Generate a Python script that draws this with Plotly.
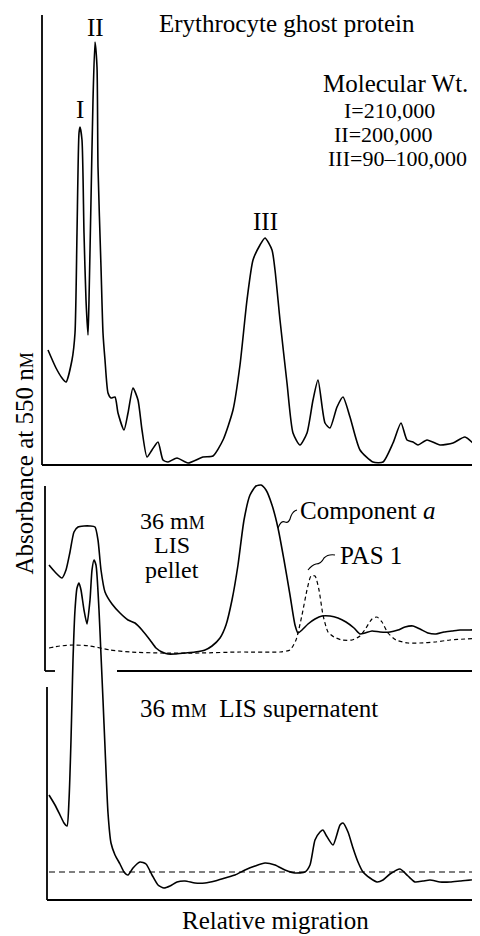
import plotly.graph_objects as go

# ---------------- data (relative migration in mm, absorbance in arbitrary units) -------------
ghost_x = [0.6, 1.4, 2.0, 2.4, 3.0, 3.3, 3.5, 3.7, 3.8, 4.0, 4.2, 4.4, 4.6, 4.7, 4.9, 5.1, 5.3, 5.5,
           5.6, 5.9, 6.1, 6.3, 6.6, 6.9, 7.3, 7.6, 8.2, 8.6, 9.1, 9.6, 10.0, 10.5, 11.0, 11.6, 12.1,
           12.6, 13.5, 14.6, 16.1, 17.1, 18.1, 19.1, 19.8, 20.5, 21.1, 21.8, 22.3, 23.0, 23.3, 23.8,
           24.5, 25.1, 25.8, 26.5, 27.1, 27.6, 28.3, 28.8, 29.5, 30.1, 30.8, 31.8, 33.1, 34.1, 35.1,
           35.9, 36.5, 37.1, 37.6, 38.5, 39.8, 41.1, 42.3, 43.5, 44.0]
ghost_y = [0.230, 0.194, 0.174, 0.166, 0.210, 0.264, 0.464, 0.664, 0.676, 0.650, 0.464, 0.330, 0.260,
           0.330, 0.530, 0.730, 0.846, 0.796, 0.596, 0.396, 0.264, 0.210, 0.144, 0.134, 0.136, 0.104,
           0.070, 0.104, 0.154, 0.130, 0.070, 0.016, 0.030, 0.046, 0.010, 0.006, 0.014, 0.004, 0.016,
           0.018, 0.050, 0.110, 0.200, 0.330, 0.410, 0.440, 0.454, 0.430, 0.390, 0.290, 0.164, 0.064,
           0.040, 0.064, 0.130, 0.170, 0.084, 0.074, 0.116, 0.136, 0.096, 0.030, 0.006, 0.006, 0.044,
           0.084, 0.050, 0.046, 0.040, 0.050, 0.040, 0.044, 0.056, 0.036, 0.026]

pellet_x = [0.7, 1.3, 2.0, 2.4, 2.8, 3.2, 3.6, 4.2, 4.8, 5.3, 5.6, 5.9, 6.3, 7.0, 7.8, 8.6, 9.3, 10.0,
            10.8, 11.4, 12.0, 12.6, 13.3, 14.3, 15.3, 16.3, 17.0, 17.8, 18.4, 19.0, 19.6, 20.2, 20.8,
            21.4, 21.9, 22.4, 23.0, 23.6, 24.2, 24.8, 25.3, 25.6, 26.0, 26.6, 27.3, 28.0, 28.8, 29.6,
            30.4, 31.2, 31.8, 32.3, 33.0, 33.8, 34.8, 35.6, 36.3, 37.1, 37.8, 38.6, 39.4, 40.2, 41.0,
            41.8, 42.8, 44.0]
pellet_y = [0.212, 0.198, 0.186, 0.202, 0.238, 0.278, 0.288, 0.290, 0.290, 0.288, 0.262, 0.202, 0.158,
            0.134, 0.116, 0.102, 0.096, 0.082, 0.062, 0.046, 0.038, 0.034, 0.034, 0.036, 0.038, 0.042,
            0.050, 0.066, 0.092, 0.142, 0.212, 0.302, 0.352, 0.370, 0.372, 0.362, 0.332, 0.286, 0.222,
            0.152, 0.092, 0.076, 0.082, 0.094, 0.104, 0.110, 0.110, 0.106, 0.098, 0.086, 0.074, 0.076,
            0.080, 0.078, 0.078, 0.082, 0.088, 0.090, 0.084, 0.076, 0.074, 0.078, 0.080, 0.082, 0.082,
            0.084]

pas_x = [0.7, 1.8, 3.3, 4.8, 6.8, 8.8, 11.8, 15.8, 19.8, 23.8, 24.8, 25.4, 26.0, 26.5, 26.9, 27.3,
         27.7, 28.1, 28.6, 29.2, 30.0, 31.0, 31.8, 32.4, 33.0, 33.5, 34.0, 34.6, 35.4, 36.6, 37.8,
         39.3, 40.8, 42.3, 44.0]
pas_y = [0.046, 0.050, 0.052, 0.050, 0.042, 0.038, 0.036, 0.036, 0.038, 0.038, 0.042, 0.062, 0.112,
         0.162, 0.190, 0.190, 0.162, 0.112, 0.078, 0.068, 0.062, 0.062, 0.070, 0.086, 0.104, 0.108,
         0.098, 0.076, 0.062, 0.056, 0.056, 0.058, 0.062, 0.064, 0.066]

super_x = [0.7, 1.3, 1.8, 2.2, 2.5, 2.7, 2.9, 3.0, 3.1, 3.3, 3.5, 3.7, 3.9, 4.2, 4.5, 4.8, 5.0, 5.2,
           5.4, 5.7, 5.9, 6.1, 6.3, 6.6, 6.9, 7.3, 7.8, 8.2, 8.6, 9.1, 9.8, 10.4, 11.0, 11.6, 12.2,
           12.8, 13.5, 14.3, 15.3, 16.3, 17.3, 18.3, 19.3, 20.3, 21.3, 22.3, 23.3, 24.3, 25.3, 26.3,
           26.8, 27.3, 27.8, 28.1, 28.4, 29.1, 29.8, 30.1, 30.6, 31.1, 31.6, 32.1, 32.8, 33.5, 34.1,
           34.8, 35.8, 36.6, 37.3, 38.1, 38.8, 39.8, 40.8, 41.8, 42.8, 44.0]
super_y = [0.210, 0.190, 0.170, 0.154, 0.148, 0.200, 0.320, 0.400, 0.480, 0.580, 0.624, 0.634, 0.620,
           0.580, 0.552, 0.600, 0.660, 0.680, 0.670, 0.580, 0.490, 0.400, 0.306, 0.174, 0.114, 0.090,
           0.072, 0.056, 0.050, 0.064, 0.076, 0.072, 0.050, 0.030, 0.024, 0.028, 0.036, 0.038, 0.034,
           0.034, 0.038, 0.044, 0.050, 0.060, 0.068, 0.074, 0.070, 0.060, 0.054, 0.056, 0.070, 0.120,
           0.136, 0.140, 0.130, 0.110, 0.150, 0.154, 0.136, 0.104, 0.076, 0.056, 0.044, 0.036, 0.040,
           0.052, 0.062, 0.048, 0.036, 0.038, 0.040, 0.036, 0.036, 0.038, 0.040, 0.044]

super_ref_x = [0.7, 44.0]
super_ref_y = [0.056, 0.056]

mol_labels = ["I=210,000", "II=200,000", "III=90\u2013100,000"]

# ---------------- figure ----------------
# The page body has an 8px margin, so the figure is sized to end exactly at the window edge.
PAGE_OFF = 8
W, H = 480 - PAGE_OFF, 936 - PAGE_OFF
FONT = "Liberation Serif, Times New Roman, serif"
FS = 25
SC = "<span style='font-size:18px'>M</span>"  # small-capital M


def fx(px):
    return (px - PAGE_OFF) / W


def fy(py):
    return 1 - (py - PAGE_OFF) / H


fig = go.Figure()
solid = dict(color="black", width=1.6, shape="spline", smoothing=0.6)

fig.add_trace(go.Scatter(x=ghost_x, y=ghost_y, mode="lines", line=solid, xaxis="x", yaxis="y"))
fig.add_trace(go.Scatter(x=pellet_x, y=pellet_y, mode="lines", line=solid, xaxis="x2", yaxis="y2"))
fig.add_trace(go.Scatter(x=pas_x, y=pas_y, mode="lines",
                         line=dict(color="black", width=1.2, dash="4px,3px", shape="spline", smoothing=0.6),
                         xaxis="x2", yaxis="y2"))
fig.add_trace(go.Scatter(x=super_x, y=super_y, mode="lines", line=solid, xaxis="x3", yaxis="y3"))
fig.add_trace(go.Scatter(x=super_ref_x, y=super_ref_y, mode="lines",
                         line=dict(color="black", width=1.2, dash="6px,4px"), xaxis="x3", yaxis="y3"))

hidden = dict(showgrid=False, zeroline=False, showticklabels=False, ticks="", showline=False)
xr = [-0.6, 43.8]
xdom = [fx(36), 1]

fig.update_layout(
    width=W, height=H, margin=dict(l=0, r=0, t=0, b=0),
    paper_bgcolor="white", plot_bgcolor="rgba(0,0,0,0)", showlegend=False,
    font=dict(family=FONT, size=FS, color="black"),
    xaxis=dict(domain=xdom, range=xr, anchor="y", **hidden),
    xaxis2=dict(domain=xdom, range=xr, anchor="y2", **hidden),
    xaxis3=dict(domain=xdom, range=xr, anchor="y3", **hidden),
    yaxis=dict(domain=[fy(471), fy(10)], range=[-0.012, 0.91], anchor="x", **hidden),
    yaxis2=dict(domain=[fy(677), fy(478)], range=[-0.012, 0.386], anchor="x2", **hidden),
    yaxis3=dict(domain=[fy(906), fy(540)], range=[-0.012, 0.72], anchor="x3", **hidden),
)

ax = dict(color="black", width=1.8)
shapes = [
    # panel 1 axes
    dict(type="line", xref="x", yref="y", x0=0, x1=0, y0=0, y1=0.9, line=ax),
    dict(type="line", xref="x", yref="y", x0=0, x1=44, y0=0, y1=0, line=ax),
    # panel 2 axes (baseline interrupted where the supernatant trace passes)
    dict(type="line", xref="x2", yref="y2", x0=0.3, x1=0.3, y0=0, y1=0.37, line=ax),
    dict(type="line", xref="x2", yref="y2", x0=0.3, x1=1.3, y0=0, y1=0, line=ax),
    dict(type="line", xref="x2", yref="y2", x0=7.5, x1=44, y0=0, y1=0, line=ax),
    # panel 3 axes
    dict(type="line", xref="x3", yref="y3", x0=0.5, x1=0.5, y0=0, y1=0.426, line=ax),
    dict(type="line", xref="x3", yref="y3", x0=0.5, x1=44, y0=0, y1=0, line=ax),
    # leader squiggles
    dict(type="path", xref="x2", yref="y2",
         path="M23.6,0.286 Q23.9,0.302 24.3,0.298 Q24.7,0.294 24.9,0.310 Q25.1,0.320 25.5,0.322",
         line=dict(color="black", width=1.1)),
    dict(type="path", xref="x2", yref="y2",
         path="M26.6,0.202 Q27.0,0.212 27.4,0.214 Q27.9,0.214 28.2,0.226 Q28.6,0.234 29.3,0.232",
         line=dict(color="black", width=1.1)),
]
fig.update_layout(shapes=shapes)

ann = []


def add(text, x, y, xref, yref, xanchor="center", yanchor="middle", **kw):
    ann.append(dict(text=text, x=x, y=y, xref=xref, yref=yref, xanchor=xanchor,
                    yanchor=yanchor, showarrow=False, **kw))


add("Erythrocyte ghost protein", 24.5, 0.884, "x", "y")
add("II", 5.3, 0.876, "x", "y")
add("I", 3.8, 0.712, "x", "y")
add("III", 22.3, 0.488, "x", "y")
add("Molecular Wt.", 35.3, 0.764, "x", "y")
for lab, xx, yy in zip(mol_labels, [30.0, 29.0, 28.35], [0.710, 0.661, 0.614]):
    add(lab, xx, yy, "x", "y", xanchor="left", font=dict(size=22))

add("36 m" + SC, 13.0, 0.301, "x2", "y2", font=dict(size=24))
add("LIS", 13.0, 0.252, "x2", "y2", font=dict(size=24))
add("pellet", 13.0, 0.203, "x2", "y2", font=dict(size=24))
add("Component <i>a</i>", 25.6, 0.322, "x2", "y2", xanchor="left")
add("PAS 1", 29.6, 0.232, "x2", "y2", xanchor="left")

add("36 m" + SC + "\u00a0\u00a0LIS supernatent", 9.6, 0.384, "x3", "y3", xanchor="left")

add("Relative migration", fx(275), fy(920), "paper", "paper")
add("Absorbance at 550 n" + SC, 0, fy(464), "paper", "paper", xanchor="left", textangle=-90)

fig.update_layout(annotations=ann)

fig.write_html("out.html")
